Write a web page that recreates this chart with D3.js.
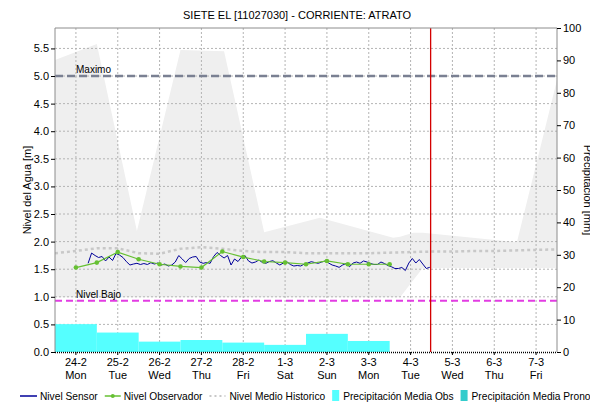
<!DOCTYPE html>
<html><head><meta charset="utf-8">
<script src="https://cdn.jsdelivr.net/npm/d3@7"></script>
<style>
body{margin:0;background:#fff;}
svg{display:block;font-family:"Liberation Sans",Arial,sans-serif;}
</style></head>
<body><svg id="c" width="590" height="403"></svg>
<script>
// ---------------- DATA ----------------
const title = "SIETE EL [11027030] - CORRIENTE: ATRATO";
const xStart = "2025-02-23T12:00", xEnd = "2025-03-07T12:00";
const dayTicks = ["2025-02-24","2025-02-25","2025-02-26","2025-02-27","2025-02-28","2025-03-01","2025-03-02","2025-03-03","2025-03-04","2025-03-05","2025-03-06","2025-03-07"];
const levelTicks = [0,0.5,1,1.5,2,2.5,3,3.5,4,4.5,5,5.5];
const precipTicks = [0,10,20,30,40,50,60,70,80,90,100];
const levelMax = 5.87, precipMax = 100;

// Nivel Sensor: every 2 h from start
const sensorStart = "2025-02-24T07:00", sensorStepHours = 2;
const sensorValues = [1.607,1.793,1.748,1.712,1.730,1.649,1.721,1.658,1.784,1.757,1.712,1.636,1.576,1.594,1.607,1.585,1.603,1.585,1.618,1.594,
1.612,1.576,1.594,1.558,1.576,1.630,1.748,1.685,1.621,1.694,1.721,1.730,1.630,1.607,1.621,1.607,1.730,1.803,1.748,1.703,
1.748,1.576,1.685,1.639,1.721,1.748,1.649,1.612,1.630,1.667,1.621,1.607,1.639,1.654,1.612,1.576,1.612,1.636,1.585,1.558,
1.567,1.558,1.594,1.612,1.636,1.621,1.607,1.630,1.649,1.612,1.576,1.558,1.534,1.576,1.603,1.545,1.612,1.630,1.607,1.649,
1.630,1.603,1.585,1.585,1.630,1.603,1.567,1.545,1.513,1.513,1.531,1.476,1.612,1.694,1.612,1.676,1.594,1.513,1.534];

// Nivel Observador: every 12 h
const obsStart = "2025-02-24T00:00", obsStepHours = 12;
const obsValues = [1.53,1.62,1.81,1.68,1.59,1.55,1.53,1.82,1.72,1.64,1.62,1.59,1.65,1.59,1.59,1.59];

// Nivel Medio Historico: every 12 h
const meanStart = "2025-02-23T12:00", meanStepHours = 12;
const meanValues = [1.79,1.83,1.88,1.88,1.79,1.78,1.87,1.90,1.87,1.83,1.81,1.81,1.79,1.79,1.79,1.79,1.80,1.81,1.82,1.82,1.83,1.83,1.84,1.85,1.86];

// Historic range band (min / max)
const bandDates = ["2025-02-23T12:00","2025-02-24T12:00","2025-02-25T11:00","2025-02-26T12:00","2025-02-27T13:00","2025-02-28T12:00","2025-03-01T20:00","2025-03-03T14:00","2025-03-03T18:00","2025-03-04T01:30","2025-03-04T07:00","2025-03-06T13:00","2025-03-07T12:00"];
const bandMax = [5.29,5.58,2.19,5.47,5.45,2.17,2.43,2.07,2.09,2.16,2.16,1.99,4.93];
const bandMin = [0.99,0.99,0.99,0.99,0.99,0.99,0.99,0.99,0.99,1.30,1.52,1.52,1.52];

// Precipitación Media Obs (daily, mm)
const precipDays = ["2025-02-24","2025-02-25","2025-02-26","2025-02-27","2025-02-28","2025-03-01","2025-03-02","2025-03-03"];
const precipValues = [8.6,6.0,3.2,3.7,2.9,2.2,5.6,3.4];

const nivelMaximo = 5.0, nivelBajo = 0.93;
const nowTime = "2025-03-04T11:30";
const legendItems = ["Nivel Sensor","Nivel Observador","Nivel Medio Historico","Precipitación Media Obs","Precipitación Media Pronosticada"];

// ---------------- CHART ----------------
const P = {l:55, r:557, t:28, b:352};
const pt = d3.timeParse("%Y-%m-%dT%H:%M"), pd = d3.timeParse("%Y-%m-%d");
const svg = d3.select("#c");
const x = d3.scaleTime().domain([pt(xStart), pt(xEnd)]).range([P.l, P.r]);
const y = d3.scaleLinear().domain([0, levelMax]).range([P.b, P.t]);
const y2 = d3.scaleLinear().domain([0, precipMax]).range([P.b, P.t]);

svg.append("defs").append("clipPath").attr("id","clip").append("rect")
  .attr("x",P.l).attr("y",P.t).attr("width",P.r-P.l).attr("height",P.b-P.t);
const g = svg.append("g").attr("clip-path","url(#clip)");

const series = (start, step, vals) => vals.map((v,i)=>({t:d3.timeHour.offset(pt(start), i*step), v}));

// band
const band = bandDates.map((d,i)=>({t:pt(d), hi:bandMax[i], lo:bandMin[i]}));
g.append("path").datum(band)
  .attr("d", d3.area().x(d=>x(d.t)).y0(d=>y(d.lo)).y1(d=>y(d.hi)))
  .attr("fill","#efefef");

// grid
g.selectAll(".hg").data(levelTicks.filter(v=>v>0)).join("line")
  .attr("x1",P.l).attr("x2",P.r).attr("y1",d=>y(d)).attr("y2",d=>y(d))
  .attr("stroke","#b4b4b4").attr("stroke-dasharray","2,2");
g.selectAll(".vg").data(dayTicks.map(pd)).join("line")
  .attr("x1",d=>x(d)).attr("x2",d=>x(d)).attr("y1",P.t).attr("y2",P.b)
  .attr("stroke","#b4b4b4").attr("stroke-dasharray","2,2");

// historic mean
g.append("path").datum(series(meanStart, meanStepHours, meanValues))
  .attr("d", d3.line().x(d=>x(d.t)).y(d=>y(d.v)))
  .attr("fill","none").attr("stroke","#c8c8c8").attr("stroke-width",2.5).attr("stroke-dasharray","3,3");

// precipitation bars
g.selectAll(".pb").data(precipDays.map((d,i)=>({t:pd(d), v:precipValues[i]}))).join("rect")
  .attr("x", d=>x(d3.timeHour.offset(d.t,-12)))
  .attr("width", d=>x(d3.timeHour.offset(d.t,12))-x(d3.timeHour.offset(d.t,-12)))
  .attr("y", d=>y2(d.v)).attr("height", d=>P.b-y2(d.v))
  .attr("fill","#55ffff");

// reference lines
g.append("line").attr("x1",P.l).attr("x2",P.r).attr("y1",y(nivelMaximo)).attr("y2",y(nivelMaximo))
  .attr("stroke","#7a8092").attr("stroke-width",2.5).attr("stroke-dasharray","8,4");
g.append("line").attr("x1",P.l).attr("x2",P.r).attr("y1",y(nivelBajo)).attr("y2",y(nivelBajo))
  .attr("stroke","#e23ce2").attr("stroke-width",2).attr("stroke-dasharray","7,4");
svg.append("text").attr("x",76).attr("y",y(nivelMaximo)-3).attr("font-size",10).text("Maximo");
svg.append("text").attr("x",76).attr("y",y(nivelBajo)-3).attr("font-size",10).text("Nivel Bajo");

// sensor
g.append("path").datum(series(sensorStart, sensorStepHours, sensorValues))
  .attr("d", d3.line().x(d=>x(d.t)).y(d=>y(d.v)))
  .attr("fill","none").attr("stroke","#000099").attr("stroke-width",1);

// observer
const obs = series(obsStart, obsStepHours, obsValues);
g.append("path").datum(obs)
  .attr("d", d3.line().x(d=>x(d.t)).y(d=>y(d.v)))
  .attr("fill","none").attr("stroke","#66c033").attr("stroke-width",1.2);
g.selectAll(".od").data(obs).join("circle")
  .attr("cx",d=>x(d.t)).attr("cy",d=>y(d.v)).attr("r",2.3).attr("fill","#66c033");

// now line
svg.append("line").attr("x1",x(pt(nowTime))).attr("x2",x(pt(nowTime))).attr("y1",P.t).attr("y2",P.b)
  .attr("stroke","#d40000").attr("stroke-width",1.3);

// frame
svg.append("line").attr("x1",P.l).attr("x2",P.r).attr("y1",P.t).attr("y2",P.t).attr("stroke","#8c8c8c");
svg.append("line").attr("x1",P.l).attr("x2",P.l).attr("y1",P.t).attr("y2",P.b).attr("stroke","#8c8c8c");
svg.append("line").attr("x1",P.r).attr("x2",P.r).attr("y1",P.t).attr("y2",P.b).attr("stroke","#8c8c8c");
svg.append("line").attr("x1",P.l).attr("x2",P.r).attr("y1",P.b+0.5).attr("y2",P.b+0.5)
  .attr("stroke","#000").attr("stroke-width",1.5).attr("stroke-dasharray","1,1");

// axes
const ax = svg.append("g").attr("transform",`translate(${P.l},0)`)
  .call(d3.axisLeft(y).tickValues(levelTicks).tickFormat(d3.format(".1f")).tickSize(4).tickPadding(2));
ax.select(".domain").remove();
const ax2 = svg.append("g").attr("transform",`translate(${P.r},0)`)
  .call(d3.axisRight(y2).tickValues(precipTicks).tickSize(4).tickPadding(2));
ax2.select(".domain").remove();
svg.selectAll(".tick text").attr("font-size",11).attr("font-family","Liberation Sans, Arial, sans-serif").attr("fill","#000");
svg.selectAll(".tick line").attr("stroke","#000");

const fd = d3.timeFormat("%-d-%-m"), fw = d3.timeFormat("%a");
const xt = svg.append("g").selectAll("g").data(dayTicks.map(pd)).join("g");
xt.append("line").attr("x1",d=>x(d)).attr("x2",d=>x(d)).attr("y1",P.b).attr("y2",P.b+3).attr("stroke","#000");
xt.append("text").attr("x",d=>x(d)).attr("y",366).attr("text-anchor","middle").attr("font-size",11).text(fd);
xt.append("text").attr("x",d=>x(d)).attr("y",379).attr("text-anchor","middle").attr("font-size",11).text(fw);

// titles
svg.append("text").attr("x",297).attr("y",19).attr("text-anchor","middle").attr("font-size",11).text(title);
svg.append("text").attr("transform","translate(31,190) rotate(-90)").attr("text-anchor","middle").attr("font-size",11).text("Nivel del Agua [m]");
svg.append("text").attr("transform","translate(584,190) rotate(90)").attr("text-anchor","middle").attr("font-size",11).text("Precipitación [mm]");

// legend (sequential layout from measured text widths)
const lg = svg.append("g");
const ly = 396, lfs = 10.2;
let cx = 20;
const symbols = [
  s => { s.append("line").attr("x1",cx).attr("x2",cx+17).attr("y1",ly).attr("y2",ly).attr("stroke","#000099").attr("stroke-width",1.5); return 20; },
  s => { s.append("line").attr("x1",cx).attr("x2",cx+16).attr("y1",ly).attr("y2",ly).attr("stroke","#66c033").attr("stroke-width",1.5);
         s.append("circle").attr("cx",cx+8).attr("cy",ly).attr("r",2).attr("fill","#66c033"); return 19; },
  s => { s.append("line").attr("x1",cx).attr("x2",cx+16).attr("y1",ly).attr("y2",ly).attr("stroke","#c8c8c8").attr("stroke-width",2).attr("stroke-dasharray","2,3"); return 20; },
  s => { s.append("rect").attr("x",cx).attr("y",390).attr("width",7).attr("height",11).attr("fill","#55ffff"); return 11; },
  s => { s.append("rect").attr("x",cx).attr("y",390).attr("width",7).attr("height",11).attr("fill","#33cccc"); return 11; }
];
legendItems.forEach((name,i)=>{
  cx += symbols[i](lg);
  const t = lg.append("text").attr("x",cx).attr("y",400).attr("font-size",lfs).text(name);
  cx += t.node().getComputedTextLength() + 7;
});
</script></body></html>
